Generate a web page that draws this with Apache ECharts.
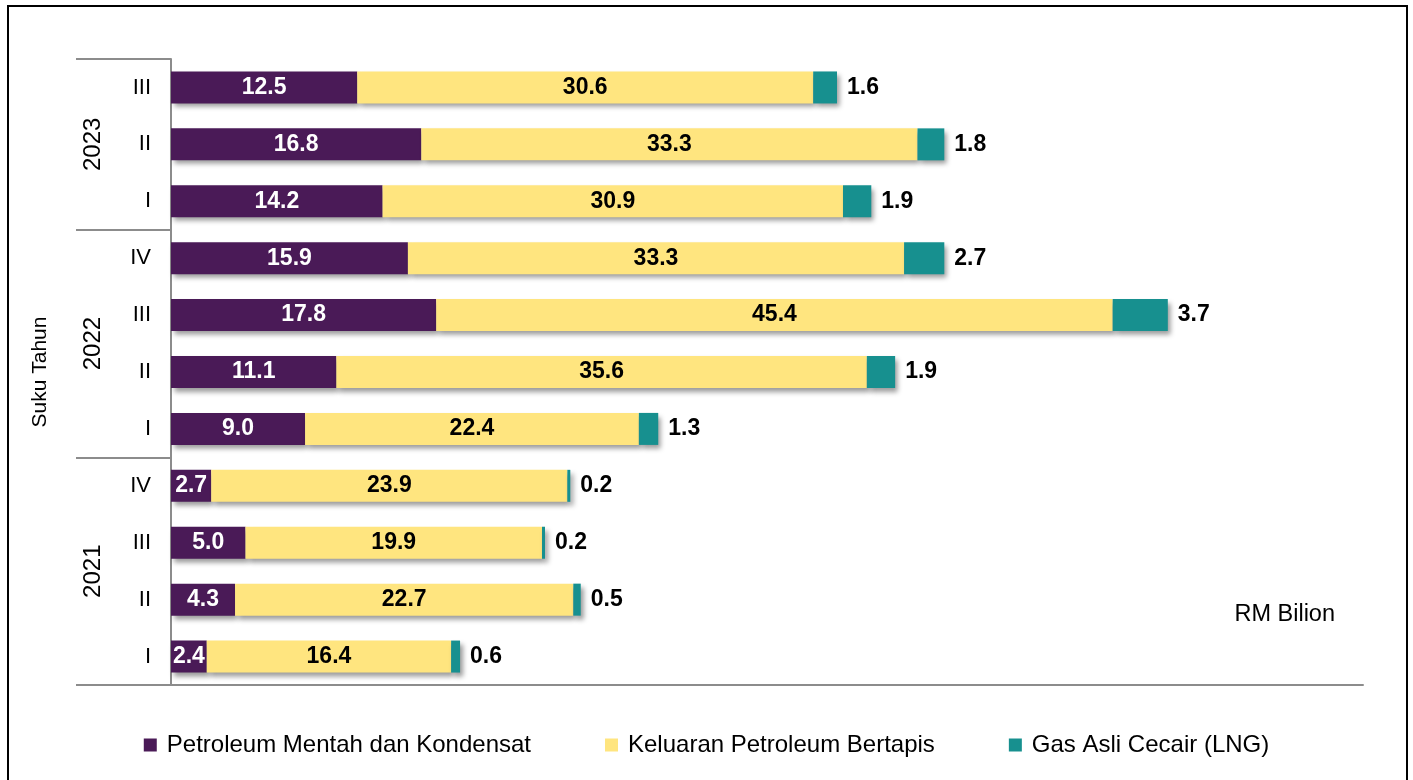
<!DOCTYPE html>
<html>
<head>
<meta charset="utf-8">
<script src="https://cdn.jsdelivr.net/npm/echarts@6/dist/echarts.min.js"></script>
<style>
  html, body { margin: 0; padding: 0; background: #fff; }
  #main { width: 1413px; height: 780px; }
  #frame { position: absolute; left: 7px; top: 5px; width: 1397px; height: 800px; border: 2px solid #000; pointer-events: none; }
</style>
</head>
<body>
<div id="main"></div>
<div id="frame"></div>
<script>
// quarters, bottom to top
const quarters = ['I', 'II', 'III', 'IV', 'I', 'II', 'III', 'IV', 'I', 'II', 'III'];
const years = ['2021', '2022', '2023'];
const yearMid = [2, 6, 9.5];        // centre of each year group, in category units
const yearEdges = [0, 4, 8, 11];    // group boundaries

const petroleumMentah = [2.4, 4.3, 5.0, 2.7, 9.0, 11.1, 17.8, 15.9, 14.2, 16.8, 12.5];
const keluaranBertapis = [16.4, 22.7, 19.9, 23.9, 22.4, 35.6, 45.4, 33.3, 30.9, 33.3, 30.6];
const gasLNG = [0.6, 0.5, 0.2, 0.2, 1.3, 1.9, 3.7, 2.7, 1.9, 1.8, 1.6];

const colors = ['#4a1a57', '#ffe57f', '#17908f'];
const font = 'Liberation Sans, Arial, sans-serif';

const shadow = {
    shadowColor: 'rgba(0,0,0,0.4)',
    shadowBlur: 5,
    shadowOffsetX: 3,
    shadowOffsetY: 4
};

const option = {
    color: colors,
    textStyle: { fontFamily: font },
    title: {
        text: 'RM Bilion',
        right: 73,
        top: 598,
        textStyle: { fontSize: 23.5, fontWeight: 'normal', color: '#000', fontFamily: font }
    },
    grid: { left: 171, right: 50, top: 59, bottom: 95 },
    legend: {
        bottom: 18,
        left: 'center',
        icon: 'rect',
        itemWidth: 13,
        itemHeight: 13,
        itemGap: 74,
        textStyle: { fontSize: 24, color: '#000', fontFamily: font, padding: [0, 0, 0, 5] },
        data: ['Petroleum Mentah dan Kondensat', 'Keluaran Petroleum Bertapis', 'Gas Asli Cecair (LNG)']
    },
    xAxis: {
        type: 'value',
        min: 0,
        max: 80,
        axisLabel: { show: false },
        axisTick: { show: false },
        splitLine: { show: false },
        axisLine: { show: true, lineStyle: { color: '#8c8c8c', width: 2 } }
    },
    yAxis: [
        {
            type: 'category',
            data: quarters,
            axisTick: { show: false },
            axisLine: { show: true, lineStyle: { color: '#8c8c8c', width: 2 } },
            axisLabel: { fontSize: 22, color: '#000', margin: 20, fontFamily: font }
        },
        {
            type: 'value',
            position: 'left',
            min: 0,
            max: 11,
            name: 'Suku Tahun',
            nameLocation: 'middle',
            nameRotate: 90,
            nameGap: 120,
            nameTextStyle: { fontSize: 21, color: '#000', fontFamily: font },
            splitLine: { show: false },
            axisLine: { show: false },
            axisTick: {
                show: true,
                customValues: yearEdges,
                length: 95,
                lineStyle: { color: '#8c8c8c', width: 2 }
            },
            axisLabel: {
                show: true,
                customValues: yearMid,
                rotate: 90,
                margin: 66,
                fontSize: 24,
                color: '#000',
                fontFamily: font,
                formatter: function (v) {
                    const i = yearMid.indexOf(v);
                    return i >= 0 ? years[i] : '';
                }
            }
        }
    ],
    series: [
        {
            name: 'Petroleum Mentah dan Kondensat',
            type: 'bar',
            stack: 'total',
            barWidth: 32,
            data: petroleumMentah,
            itemStyle: shadow,
            label: {
                show: true, position: 'inside', color: '#fff', fontWeight: 'bold', fontSize: 23, fontFamily: font,
                formatter: p => p.value.toFixed(1)
            }
        },
        {
            name: 'Keluaran Petroleum Bertapis',
            type: 'bar',
            stack: 'total',
            data: keluaranBertapis,
            itemStyle: shadow,
            label: {
                show: true, position: 'inside', color: '#000', fontWeight: 'bold', fontSize: 23, fontFamily: font,
                formatter: p => p.value.toFixed(1)
            }
        },
        {
            name: 'Gas Asli Cecair (LNG)',
            type: 'bar',
            stack: 'total',
            data: gasLNG,
            itemStyle: shadow,
            label: {
                show: true, position: 'right', distance: 10, color: '#000', fontWeight: 'bold', fontSize: 23, fontFamily: font,
                formatter: p => p.value.toFixed(1)
            }
        }
    ]
};

const chart = echarts.init(document.getElementById('main'));
chart.setOption(option);
</script>
</body>
</html>
